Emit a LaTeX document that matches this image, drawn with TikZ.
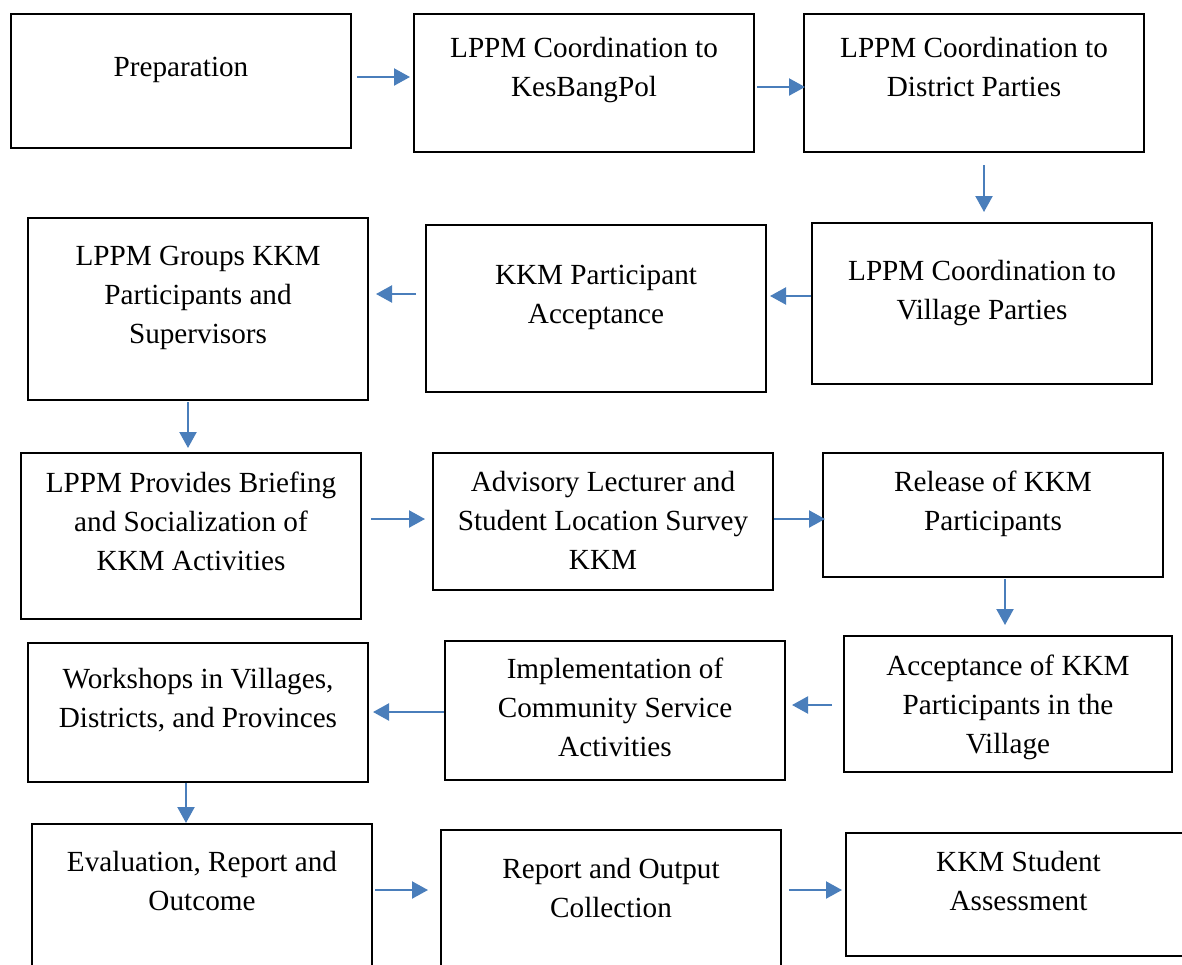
\documentclass[tikz,border=0pt]{standalone}
\usepackage{fontspec}
\setmainfont{Liberation Serif}
\usepackage{xcolor}
\usetikzlibrary{arrows.meta, positioning}
\definecolor{flowblue}{HTML}{4A7EBB}

\begin{document}
\begin{tikzpicture}[x=0.5pt, y=-0.5pt]
    \tikzstyle{stage} = [rectangle, draw=black, line width=1pt, anchor=north west, minimum width=170pt, inner sep=0pt]
    \tikzstyle{stagetext} = [anchor=north, align=center, inner sep=0pt, font=\fontsize{14.6pt}{19.5pt}\selectfont, execute at begin node=\strut]
    \tikzstyle{arrow} = [draw=flowblue, line width=1.1pt, -{Triangle[length=8pt, width=8.5pt]}]

    \clip (0,0) rectangle (1182,964);

    % first row
    \node (prep) [stage, minimum height=67pt] at (10,13) {};
    \node (kbp) [stage, minimum height=69pt] at (413,13) {};
    \node (dist) [stage, minimum height=69pt] at (803,13) {};
    \node (prep-t) [stagetext, yshift=-17.9pt] at (prep.north) {Preparation};
    \node (kbp-t) [stagetext, yshift=-11.9pt] at (kbp.north) {LPPM Coordination to\\KesBangPol};
    \node (dist-t) [stagetext, yshift=-11.9pt] at (dist.north) {LPPM Coordination to\\District Parties};

    % second row
    \node (vill) [stage, minimum height=80.5pt] at (811,222) {};
    \node (acc) [stage, minimum height=83.5pt] at (425,224) {};
    \node (grp) [stage, minimum height=91pt] at (27,217) {};
    \node (vill-t) [stagetext, yshift=-18.9pt] at (vill.north) {LPPM Coordination to\\Village Parties};
    \node (acc-t) [stagetext, yshift=-20.4pt] at (acc.north) {KKM Participant\\Acceptance};
    \node (grp-t) [stagetext, yshift=-14.6pt] at (grp.north) {LPPM Groups KKM\\Participants and\\Supervisors};

    % third row
    \node (brief) [stage, minimum height=83pt] at (20,452) {};
    \node (adv) [stage, minimum height=68.5pt] at (432,452) {};
    \node (rel) [stage, minimum height=62pt] at (822,452) {};
    \node (brief-t) [stagetext, yshift=-9.9pt] at (brief.north) {LPPM Provides Briefing\\and Socialization of\\KKM Activities};
    \node (adv-t) [stagetext, yshift=-9.4pt] at (adv.north) {Advisory Lecturer and\\Student Location Survey\\KKM};
    \node (rel-t) [stagetext, yshift=-9.4pt] at (rel.north) {Release of KKM\\Participants};

    % fourth row
    \node (accv) [stage, minimum width=164pt, minimum height=68pt] at (843,635) {};
    \node (impl) [stage, minimum height=69.5pt] at (444,640) {};
    \node (work) [stage, minimum height=69.5pt] at (27,642) {};
    \node (accv-t) [stagetext, yshift=-9.9pt] at (accv.north) {Acceptance of KKM\\Participants in the\\Village};
    \node (impl-t) [stagetext, yshift=-8.9pt] at (impl.north) {Implementation of\\Community Service\\Activities};
    \node (work-t) [stagetext, yshift=-12.9pt] at (work.north) {Workshops in Villages,\\Districts, and Provinces};

    % last row
    \node (eval) [stage, minimum height=90pt] at (31,823) {};
    \node (rep) [stage, minimum height=87pt] at (440,829) {};
    \node (ass) [stage, minimum width=172.5pt, minimum height=61.5pt] at (845,832) {};
    \node (eval-t) [stagetext, yshift=-13.9pt] at (eval.north) {Evaluation, Report and\\Outcome};
    \node (rep-t) [stagetext, yshift=-14.4pt] at (rep.north) {Report and Output\\Collection};
    \node (ass-t) [stagetext, yshift=-9.4pt] at (ass.north) {KKM Student\\Assessment};

    \draw [arrow, shorten <=2.5pt, shorten >=1.5pt] ([yshift=2pt]prep.east) -- ([yshift=2pt]prep.east -| kbp.west);
    \draw [arrow, shorten <=1pt, shorten >=-1pt] ([yshift=-2pt]kbp.east) -- ([yshift=-2pt]kbp.east -| dist.west);
    \draw [arrow, shorten <=6pt, shorten >=5pt] ([xshift=5pt]dist.south) -- ([xshift=5pt]dist.south |- vill.north);
    \draw [arrow, shorten <=0pt, shorten >=1.5pt] ([yshift=3.75pt]vill.west) -- ([yshift=3.75pt]vill.west -| acc.east);
    \draw [arrow, shorten <=4.5pt, shorten >=3.5pt] ([yshift=7.25pt]acc.west) -- ([yshift=7.25pt]acc.west -| grp.east);
    \draw [arrow, shorten <=0.5pt, shorten >=2pt] ([xshift=-5pt]grp.south) -- ([xshift=-5pt]grp.south |- brief.north);
    \draw [arrow, shorten <=4.5pt, shorten >=3.5pt] ([yshift=8.5pt]brief.east) -- ([yshift=8.5pt]brief.east -| adv.west);
    \draw [arrow, shorten <=0pt, shorten >=-1.5pt] ([yshift=1.25pt]adv.east) -- ([yshift=1.25pt]adv.east -| rel.west);
    \draw [arrow, shorten <=0.5pt, shorten >=5pt] ([xshift=6pt]rel.south) -- ([xshift=6pt]rel.south |- accv.north);
    \draw [arrow, shorten <=5.5pt, shorten >=3pt] ([yshift=-0.5pt]accv.west) -- ([yshift=-0.5pt]accv.west -| impl.east);
    \draw [arrow, shorten <=0pt, shorten >=2pt] ([yshift=-0.75pt]impl.west) -- ([yshift=-0.75pt]impl.west -| work.east);
    \draw [arrow, shorten <=0pt, shorten >=0pt] ([xshift=-6pt]work.south) -- ([xshift=-6pt]work.south |- eval.north);
    \draw [arrow, shorten <=1pt, shorten >=6pt] ([yshift=12pt]eval.east) -- ([yshift=12pt]eval.east -| rep.west);
    \draw [arrow, shorten <=3.5pt, shorten >=1.5pt] ([yshift=13.5pt]rep.east) -- ([yshift=13.5pt]rep.east -| ass.west);
\end{tikzpicture}
\end{document}
